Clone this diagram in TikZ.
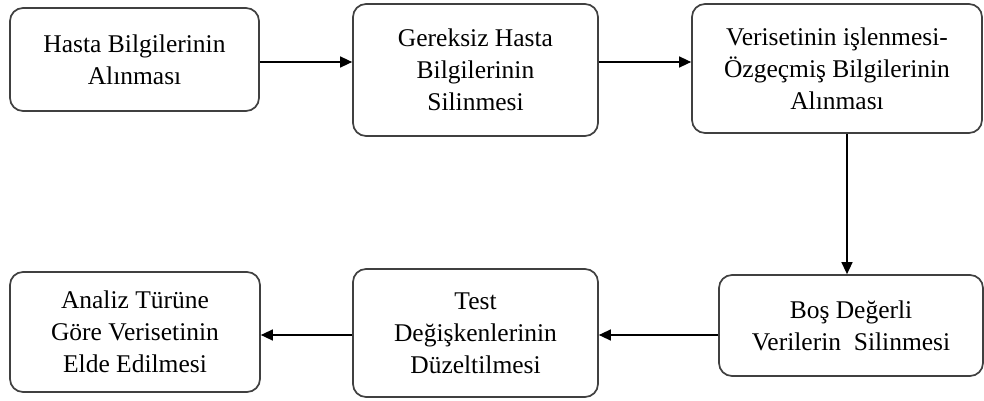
\documentclass[tikz,border=0pt]{standalone}
\usepackage{fontspec}
\setmainfont{Liberation Serif}
\usetikzlibrary{arrows.meta}
\begin{document}
\begin{tikzpicture}[x=1pt,y=-1pt,
  box/.style={draw=black!75, line width=1.7pt, rounded corners=13pt, fill=white,
    align=center, inner sep=0pt, font=\fontsize{25.5}{32}\selectfont},
  conn/.style={line width=1.4pt, -{Triangle[length=12pt,width=11pt]}}]
\useasboundingbox (0,0) rectangle (984,401);
\node[box, minimum width=249pt, minimum height=103pt] (b1) at (134.5,59.5) {Hasta Bilgilerinin\\Alınması};
\node[box, minimum width=245pt, minimum height=132pt] (b2) at (475.5,70) {Gereksiz Hasta\\Bilgilerinin\\Silinmesi};
\node[box, minimum width=290pt, minimum height=129pt] (b3) at (837,68.5) {Verisetinin işlenmesi-\\Özgeçmiş Bilgilerinin\\Alınması};
\node[box, minimum width=264pt, minimum height=101pt] (b4) at (851,325.5) {Boş Değerli\\Verilerin~~Silinmesi};
\node[box, minimum width=245pt, minimum height=128pt] (b5) at (475.5,333) {Test\\Değişkenlerinin\\Düzeltilmesi};
\node[box, minimum width=250pt, minimum height=120pt] (b6) at (135,332) {Analiz Türüne\\Göre Verisetinin\\Elde Edilmesi};
\coordinate (c1) at (0,62);
\coordinate (c2) at (847,0);
\coordinate (c3) at (0,335);
\draw[conn] (b1.east |- c1) -- (b2.west |- c1);
\draw[conn] (b2.east |- c1) -- (b3.west |- c1);
\draw[conn] (b3.south -| c2) -- (b4.north -| c2);
\draw[conn] (b4.west |- c3) -- (b5.east |- c3);
\draw[conn] (b5.west |- c3) -- (b6.east |- c3);
\end{tikzpicture}
\end{document}
